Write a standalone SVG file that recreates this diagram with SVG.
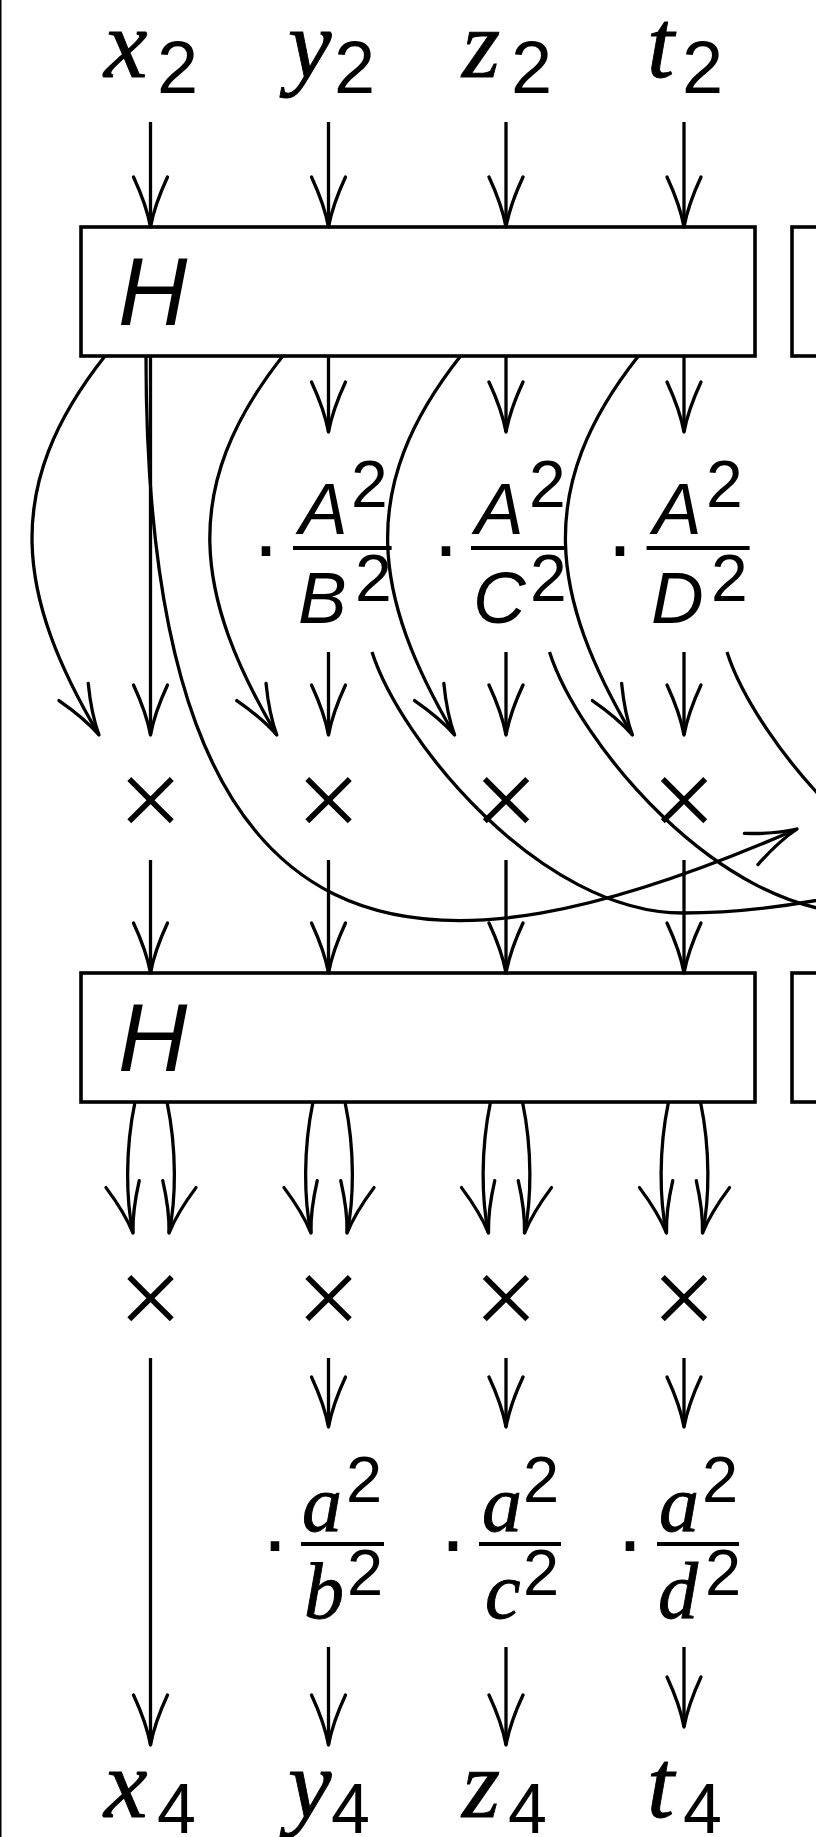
<svg xmlns="http://www.w3.org/2000/svg" width="816" height="1837" viewBox="0 0 816 1837">
<defs>
<style>
.mi{font-family:"Liberation Serif",serif;font-style:italic;fill:#000;stroke:#000;stroke-width:0.9}
.sf{font-family:"Liberation Sans",sans-serif;fill:#000}
.si{font-family:"Liberation Sans",sans-serif;font-style:italic;fill:#000}
.op{font-family:"DejaVu Sans",sans-serif;font-weight:200;fill:#000;stroke:#000;stroke-width:1.4;text-anchor:middle}
.box{fill:#fff;stroke:#000;stroke-width:3.6}
.ln{fill:none;stroke:#000;stroke-width:3.3}
.ar{fill:none;stroke:#000;stroke-width:3.3;marker-end:url(#ah)}
.bar{stroke:#000;stroke-width:4.2}
</style>
<marker id="ah" markerUnits="userSpaceOnUse" markerWidth="70" markerHeight="50" viewBox="-60 -25 70 50" refX="0" refY="0" orient="auto" overflow="visible">
<path d="M-50,-17 Q-22,-4 0,0 Q-22,4 -50,17" fill="none" stroke="#000" stroke-width="3.3" stroke-linecap="round" stroke-linejoin="round"/>
</marker>
</defs>
<rect width="816" height="1837" fill="#fff"/>
<line x1="0.75" y1="0" x2="0.75" y2="1837" stroke="#000" stroke-width="1.5"/>

<g id="box1"><rect class="box" x="81" y="227" width="674" height="129"/><text class="si" x="118" y="325" font-size="96">H</text></g>
<g id="box1b"><rect class="box" x="792" y="227" width="60" height="129"/></g>
<g id="box2"><rect class="box" x="81" y="973" width="674" height="129"/><text class="si" x="118" y="1071" font-size="96">H</text></g>
<g id="box2b"><rect class="box" x="792" y="973" width="60" height="129"/></g>

<g id="connectors">
<path class="ar" d="M150.5,122V227"/>
<path class="ar" d="M328.5,122V227"/>
<path class="ar" d="M506,122V227"/>
<path class="ar" d="M684,122V227"/>
<path class="ar" d="M328.5,356V432"/>
<path class="ar" d="M506,356V432"/>
<path class="ar" d="M684,356V432"/>
<path class="ar" d="M150.5,356V735"/>
<path class="ar" d="M146,356C146,1000 430,989 797,829"/>
<path class="ar" d="M105,356C0.5,488 17,596 99,735"/>
<path class="ar" d="M282.8,356C178.3,488 194.8,596 276.8,735"/>
<path class="ar" d="M460.6,356C356.1,488 372.6,596 454.6,735"/>
<path class="ar" d="M638.4,356C533.9,488 550.4,596 632.4,735"/>
<path class="ar" d="M328.5,652V735"/>
<path class="ar" d="M506,652V735"/>
<path class="ar" d="M684,652V735"/>
<path class="ln" d="M372,652C400,740 540,913 683,913C740,913 790,906 840,896"/>
<path class="ln" d="M549.5,652C577.5,740 717.5,913 860.5,913C917.5,913 967.5,906 1017.5,896"/>
<path class="ln" d="M727,652C755,740 895,913 1038,913C1095,913 1145,906 1195,896"/>
<path class="ar" d="M150.5,860V973"/>
<path class="ar" d="M328.5,860V973"/>
<path class="ar" d="M506,860V973"/>
<path class="ar" d="M684,860V973"/>
<path class="ar" d="M135,1102C125,1150 126,1200 133,1233"/>
<path class="ar" d="M167,1102C177,1150 176,1200 169,1233"/>
<path class="ar" d="M313,1102C303,1150 304,1200 311,1233"/>
<path class="ar" d="M345,1102C355,1150 354,1200 347,1233"/>
<path class="ar" d="M490.5,1102C480.5,1150 481.5,1200 488.5,1233"/>
<path class="ar" d="M522.5,1102C532.5,1150 531.5,1200 524.5,1233"/>
<path class="ar" d="M668.5,1102C658.5,1150 659.5,1200 666.5,1233"/>
<path class="ar" d="M700.5,1102C710.5,1150 709.5,1200 702.5,1233"/>
<path class="ar" d="M150.5,1358V1745"/>
<path class="ar" d="M328.5,1358V1427"/>
<path class="ar" d="M506,1358V1427"/>
<path class="ar" d="M684,1358V1427"/>
<path class="ar" d="M328.5,1647V1745"/>
<path class="ar" d="M506,1647V1745"/>
<path class="ar" d="M684,1647V1727"/>
</g>

<g id="x2"><text><tspan class="mi" x="104" y="77" font-size="98">x</tspan><tspan class="sf" x="157" y="93" font-size="74">2</tspan></text></g>
<g id="y2"><text><tspan class="mi" x="288" y="77" font-size="98">y</tspan><tspan class="sf" x="334" y="93" font-size="74">2</tspan></text></g>
<g id="z2"><text><tspan class="mi" x="462" y="77" font-size="98">z</tspan><tspan class="sf" x="511" y="93" font-size="74">2</tspan></text></g>
<g id="t2"><text><tspan class="mi" x="647" y="77" font-size="98">t</tspan><tspan class="sf" x="682" y="93" font-size="74">2</tspan></text></g>

<g id="fracB">
<text class="sf" x="266" y="576" font-size="90" text-anchor="middle">·</text>
<line class="bar" x1="293" y1="548" x2="391.6" y2="548"/>
<text><tspan class="si" x="299" y="534" font-size="73">A</tspan><tspan class="sf" x="351" y="507" font-size="66">2</tspan></text>
<text><tspan class="si" x="298" y="623" font-size="73">B</tspan><tspan class="sf" x="355" y="601" font-size="66">2</tspan></text>
</g>
<g id="fracC">
<text class="sf" x="446" y="576" font-size="90" text-anchor="middle">·</text>
<line class="bar" x1="471" y1="548" x2="567" y2="548"/>
<text><tspan class="si" x="475" y="534" font-size="73">A</tspan><tspan class="sf" x="529" y="507" font-size="66">2</tspan></text>
<text><tspan class="si" x="473" y="623" font-size="73">C</tspan><tspan class="sf" x="530" y="601" font-size="66">2</tspan></text>
</g>
<g id="fracD">
<text class="sf" x="620" y="576" font-size="90" text-anchor="middle">·</text>
<line class="bar" x1="646.6" y1="548" x2="749.6" y2="548"/>
<text><tspan class="si" x="653" y="534" font-size="73">A</tspan><tspan class="sf" x="706" y="507" font-size="66">2</tspan></text>
<text><tspan class="si" x="651" y="623" font-size="73">D</tspan><tspan class="sf" x="711" y="601" font-size="66">2</tspan></text>
</g>

<g id="times1a"><text class="op" x="150.5" y="827" font-size="86">×</text></g>
<g id="times1b"><text class="op" x="328.5" y="827" font-size="86">×</text></g>
<g id="times1c"><text class="op" x="506" y="827" font-size="86">×</text></g>
<g id="times1d"><text class="op" x="684" y="827" font-size="86">×</text></g>
<g id="times2a"><text class="op" x="150.5" y="1325" font-size="86">×</text></g>
<g id="times2b"><text class="op" x="328.5" y="1325" font-size="86">×</text></g>
<g id="times2c"><text class="op" x="506" y="1325" font-size="86">×</text></g>
<g id="times2d"><text class="op" x="684" y="1325" font-size="86">×</text></g>

<g id="fracb">
<text class="sf" x="275" y="1571" font-size="90" text-anchor="middle">·</text>
<line class="bar" x1="301" y1="1544" x2="384" y2="1544"/>
<text><tspan class="mi" x="302" y="1531" font-size="80">a</tspan><tspan class="sf" x="346" y="1502" font-size="65">2</tspan></text>
<text><tspan class="mi" x="304" y="1618" font-size="80">b</tspan><tspan class="sf" x="347" y="1595" font-size="65">2</tspan></text>
</g>
<g id="fracc">
<text class="sf" x="453" y="1571" font-size="90" text-anchor="middle">·</text>
<line class="bar" x1="479" y1="1544" x2="561" y2="1544"/>
<text><tspan class="mi" x="482" y="1531" font-size="80">a</tspan><tspan class="sf" x="523" y="1502" font-size="65">2</tspan></text>
<text><tspan class="mi" x="485" y="1618" font-size="80">c</tspan><tspan class="sf" x="523" y="1595" font-size="65">2</tspan></text>
</g>
<g id="fracd">
<text class="sf" x="630" y="1571" font-size="90" text-anchor="middle">·</text>
<line class="bar" x1="657" y1="1544" x2="739" y2="1544"/>
<text><tspan class="mi" x="659" y="1531" font-size="80">a</tspan><tspan class="sf" x="702" y="1502" font-size="65">2</tspan></text>
<text><tspan class="mi" x="658" y="1618" font-size="80">d</tspan><tspan class="sf" x="705" y="1595" font-size="65">2</tspan></text>
</g>

<g id="x4"><text><tspan class="mi" x="104" y="1817" font-size="98">x</tspan><tspan class="sf" x="157" y="1833" font-size="70">4</tspan></text></g>
<g id="y4"><text><tspan class="mi" x="288" y="1817" font-size="98">y</tspan><tspan class="sf" x="331" y="1833" font-size="70">4</tspan></text></g>
<g id="z4"><text><tspan class="mi" x="462" y="1817" font-size="98">z</tspan><tspan class="sf" x="508" y="1833" font-size="70">4</tspan></text></g>
<g id="t4"><text><tspan class="mi" x="647" y="1817" font-size="98">t</tspan><tspan class="sf" x="683" y="1833" font-size="70">4</tspan></text></g>
</svg>
